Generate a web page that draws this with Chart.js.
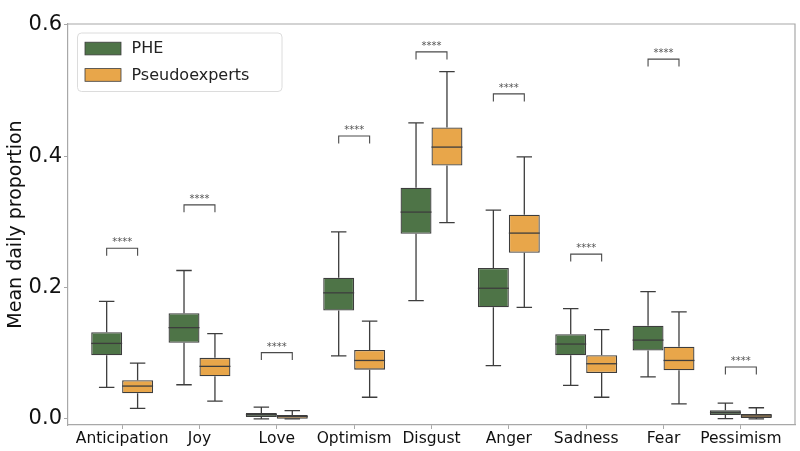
<!DOCTYPE html>
<html>
<head>
<meta charset="utf-8">
<script src="https://cdn.jsdelivr.net/npm/chart.js@4"></script>
<style>
html,body{margin:0;padding:0;background:#fff;}
#wrap{width:800px;height:451px;position:relative;}
</style>
</head>
<body>
<div id="wrap"><canvas id="c" width="800" height="451"></canvas></div>
<script>
const categories = ['Anticipation','Joy','Love','Optimism','Disgust','Anger','Sadness','Fear','Pessimism'];
const yTickValues = [0.0, 0.2, 0.4, 0.6];
const yTickLabels = ['0.0', '0.2', '0.4', '0.6'];

const pheMin = [0.048, 0.052, 0.000, 0.096, 0.180, 0.081, 0.051, 0.064, 0.0003];
const pheQ1  = [0.097, 0.116, 0.003, 0.165, 0.282, 0.170, 0.097, 0.104, 0.006];
const pheMed = [0.115, 0.139, 0.0065, 0.192, 0.315, 0.199, 0.114, 0.120, 0.0095];
const pheQ3  = [0.132, 0.161, 0.009, 0.215, 0.352, 0.230, 0.129, 0.142, 0.013];
const pheMax = [0.179, 0.226, 0.018, 0.285, 0.451, 0.318, 0.168, 0.194, 0.024];

const pseMin = [0.016, 0.027, 0.000, 0.033, 0.299, 0.170, 0.033, 0.023, 0.000];
const pseQ1  = [0.039, 0.065, 0.0003, 0.075, 0.386, 0.253, 0.070, 0.074, 0.0014];
const pseMed = [0.050, 0.080, 0.0035, 0.089, 0.414, 0.283, 0.084, 0.089, 0.0045];
const pseQ3  = [0.059, 0.093, 0.006, 0.105, 0.444, 0.311, 0.097, 0.110, 0.0075];
const pseMax = [0.085, 0.130, 0.0125, 0.149, 0.529, 0.399, 0.136, 0.163, 0.017];

const sigY = [0.260, 0.326, 0.101, 0.431, 0.559, 0.495, 0.251, 0.548, 0.079];
const sigLabels = ['****','****','****','****','****','****','****','****','****'];

const seriesNames = ['PHE', 'Pseudoexperts'];
const seriesColors = ['#4e7447', '#e8a64a'];
const edgeColor = '#3d3d3d';

const stats = [
  {min: pheMin, q1: pheQ1, med: pheMed, q3: pheQ3, max: pheMax},
  {min: pseMin, q1: pseQ1, med: pseMed, q3: pseQ3, max: pseMax}
];

function boxData(s) {
  return categories.map((c, i) => ({x: i, y: [s.q1[i], s.q3[i]]}));
}

const FONT = "'DejaVu Sans', 'Liberation Sans', sans-serif";

const boxPlugin = {
  id: 'boxExtras',
  afterDatasetsDraw(chart) {
    const ctx = chart.ctx;
    const y = chart.scales.y;
    const metas = [chart.getDatasetMeta(0), chart.getDatasetMeta(1)];
    ctx.save();
    metas.forEach((meta, d) => {
      const s = stats[d];
      meta.data.forEach((el, i) => {
        const cx = el.x, w = el.width;
        const pMin = y.getPixelForValue(s.min[i]);
        const pMax = y.getPixelForValue(s.max[i]);
        const pQ1 = y.getPixelForValue(s.q1[i]);
        const pQ3 = y.getPixelForValue(s.q3[i]);
        const pMed = y.getPixelForValue(s.med[i]);
        ctx.strokeStyle = edgeColor;
        ctx.lineWidth = 1.3;
        ctx.beginPath();
        ctx.moveTo(cx, pQ3); ctx.lineTo(cx, pMax);
        ctx.moveTo(cx, pQ1); ctx.lineTo(cx, pMin);
        ctx.moveTo(cx - w / 4, pMax); ctx.lineTo(cx + w / 4, pMax);
        ctx.moveTo(cx - w / 4, pMin); ctx.lineTo(cx + w / 4, pMin);
        ctx.stroke();
        ctx.beginPath();
        ctx.moveTo(cx - w / 2, pMed); ctx.lineTo(cx + w / 2, pMed);
        ctx.stroke();
      });
    });
    ctx.strokeStyle = '#4a4a4a';
    ctx.lineWidth = 1.1;
    ctx.fillStyle = '#555';
    ctx.font = "10px " + FONT;
    ctx.textAlign = 'center';
    ctx.textBaseline = 'alphabetic';
    categories.forEach((c, i) => {
      const x1 = metas[0].data[i].x, x2 = metas[1].data[i].x;
      const py = y.getPixelForValue(sigY[i]);
      ctx.beginPath();
      ctx.moveTo(x1, py + 7.5); ctx.lineTo(x1, py); ctx.lineTo(x2, py); ctx.lineTo(x2, py + 7.5);
      ctx.stroke();
      ctx.fillText(sigLabels[i], (x1 + x2) / 2, py - 3);
    });
    ctx.restore();
  },
  afterDraw(chart) {
    const ctx = chart.ctx;
    const a = chart.chartArea;
    ctx.save();
    ctx.strokeStyle = '#a8a8a8';
    ctx.lineWidth = 1.2;
    ctx.beginPath();
    ctx.moveTo(a.left, a.top); ctx.lineTo(a.right, a.top); ctx.lineTo(a.right, a.bottom);
    ctx.stroke();
    const lx = a.left + 9.5, ly = a.top + 9, lw = 204.5, lh = 58.5, r = 4;
    ctx.fillStyle = 'rgba(255,255,255,0.85)';
    ctx.strokeStyle = '#dcdcdc';
    ctx.lineWidth = 1;
    ctx.beginPath();
    ctx.roundRect(lx, ly, lw, lh, r);
    ctx.fill();
    ctx.stroke();
    ctx.font = "16px " + FONT;
    ctx.textAlign = 'left';
    ctx.textBaseline = 'middle';
    chart.data.datasets.forEach((ds, k) => {
      const py = ly + 9.2 + k * 26.4;
      ctx.fillStyle = ds.backgroundColor;
      ctx.fillRect(lx + 7.5, py, 36, 12.7);
      ctx.strokeStyle = edgeColor;
      ctx.lineWidth = 0.8;
      ctx.strokeRect(lx + 7.5, py, 36, 12.7);
      ctx.fillStyle = '#222';
      ctx.fillText(ds.label, lx + 54, py + 7);
    });
    ctx.restore();
  }
};

new Chart(document.getElementById('c'), {
  type: 'bar',
  data: {
    datasets: stats.map((s, d) => ({
      label: seriesNames[d],
      data: boxData(s),
      backgroundColor: seriesColors[d],
      borderColor: edgeColor,
      borderWidth: 1.3,
      borderSkipped: false,
      categoryPercentage: 0.8,
      barPercentage: 1.0
    }))
  },
  options: {
    responsive: false,
    animation: false,
    devicePixelRatio: 1,
    layout: {padding: {left: 0, right: 5, top: 24, bottom: 0}},
    plugins: {legend: {display: false}, tooltip: {enabled: false}},
    scales: {
      x: {
        type: 'linear',
        offset: false,
        min: -0.7,
        max: 8.7,
        afterBuildTicks(scale) { scale.ticks = categories.map((c, i) => ({value: i})); },
        afterFit(scale) { scale.height = 26; },
        ticks: {
          autoSkip: false, maxRotation: 0, padding: 1,
          color: '#111',
          font: {family: FONT, size: 15.5},
          callback: (v) => categories[v]
        },
        grid: {drawOnChartArea: false, drawTicks: true, tickLength: 4, color: '#a8a8a8', offset: false},
        border: {display: true, color: '#a8a8a8', width: 1.2}
      },
      y: {
        min: -0.0093,
        max: 0.6015,
        afterBuildTicks(scale) { scale.ticks = yTickValues.map(v => ({value: v})); },
        afterFit(scale) { scale.width = 68; },
        ticks: {
          padding: 2,
          color: '#111',
          font: {family: FONT, size: 21},
          callback: (v) => { const k = yTickValues.indexOf(v); return k >= 0 ? yTickLabels[k] : ''; }
        },
        grid: {drawOnChartArea: false, drawTicks: true, tickLength: 4, color: '#a8a8a8'},
        border: {display: true, color: '#a8a8a8', width: 1.2},
        title: {
          display: true,
          text: 'Mean daily proportion',
          color: '#111',
          font: {family: FONT, size: 19, lineHeight: 1.2},
          padding: {top: 5, bottom: 0}
        }
      }
    }
  },
  plugins: [boxPlugin]
});
</script>
</body>
</html>
